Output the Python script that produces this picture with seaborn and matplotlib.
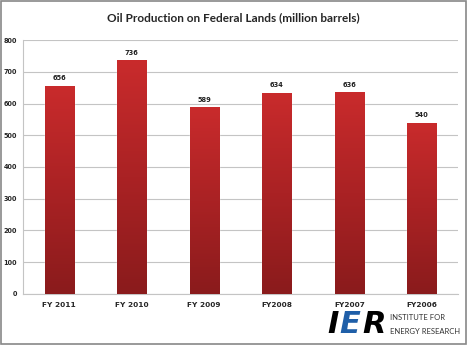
import matplotlib
matplotlib.use("Agg")
import matplotlib.pyplot as plt
import seaborn as sns
import numpy as np
import pandas as pd
from matplotlib.patches import Rectangle
from matplotlib.colors import LinearSegmentedColormap

categories = ["FY 2011", "FY 2010", "FY 2009", "FY2008", "FY2007", "FY2006"]
values = [656, 736, 589, 634, 636, 540]
yticks = [0, 100, 200, 300, 400, 500, 600, 700, 800]

sns.set_style("white")
plt.rcParams['font.family'] = ['Lato', 'DejaVu Sans']

df = pd.DataFrame({"year": categories, "value": values})

fig = plt.figure(figsize=(4.67, 3.45), dpi=100)
ax = fig.add_axes([0.049, 0.148, 0.932, 0.736])
sns.barplot(data=df, x="year", y="value", color="#b82424", width=0.4, ax=ax,
            saturation=1, zorder=3)

grad = np.linspace(0, 1, 256).reshape(-1, 1)
cmap = LinearSegmentedColormap.from_list("g", ["#8a1b1c", "#aa2224", "#c92b2c"])
for p in list(ax.patches):
    x0, y0 = p.get_x(), p.get_y()
    w, h = p.get_width(), p.get_height()
    im = ax.imshow(grad, cmap=cmap, aspect="auto", origin="lower",
                   extent=[x0, x0 + w, y0, y0 + h], zorder=4)
    im.set_clip_path(p)

for i, v in enumerate(values):
    ax.text(i, v + 14, str(v), ha="center", va="bottom", fontsize=4.8,
            fontweight="bold", color="#222222", family="DejaVu Sans")

ax.set_xlim(-0.5, 5.5)
ax.set_ylim(0, 800)
ax.set_yticks(yticks)
ax.set_yticklabels([str(t) for t in yticks], fontsize=4.7, fontweight="bold",
                   family="DejaVu Sans")
ax.set_xticks(range(len(categories)))
ax.set_xticklabels(categories, fontsize=5.3, fontweight="bold", family="DejaVu Sans")
ax.tick_params(axis="y", length=0, pad=4)
ax.tick_params(axis="x", length=0, pad=6)
ax.set_xlabel("")
ax.set_ylabel("")
ax.yaxis.grid(True, color="#c4c4c4", linewidth=0.8, zorder=0)
ax.set_axisbelow(True)
for s in ["top", "right"]:
    ax.spines[s].set_visible(False)
ax.spines["left"].set_color("#c4c4c4")
ax.spines["bottom"].set_color("#c4c4c4")

fig.text(0.5, 0.948, "Oil Production on Federal Lands (million barrels)",
         ha="center", va="center", fontsize=8.5, fontweight="bold")

# IER logo
fig.text(0.700, 0.058, "I", fontsize=22, fontweight="black", style="italic",
         color="black", ha="left", va="center", family="DejaVu Sans")
fig.text(0.727, 0.058, "E", fontsize=22, fontweight="black", style="italic",
         color="#1f5fa8", ha="left", va="center", family="DejaVu Sans")
fig.text(0.775, 0.058, "R", fontsize=22, fontweight="black", style="italic",
         color="black", ha="left", va="center", family="DejaVu Sans")
fig.text(0.835, 0.080, "INSTITUTE FOR", fontsize=5.5, color="#333333",
         ha="left", va="center")
fig.text(0.835, 0.040, "ENERGY RESEARCH", fontsize=5.5, color="#333333",
         ha="left", va="center")

fig.patches.append(Rectangle((0.002, 0.003), 0.995, 0.994, transform=fig.transFigure,
                             fill=False, edgecolor="#888888", linewidth=1.2))

fig.savefig("out.png", dpi=100)
